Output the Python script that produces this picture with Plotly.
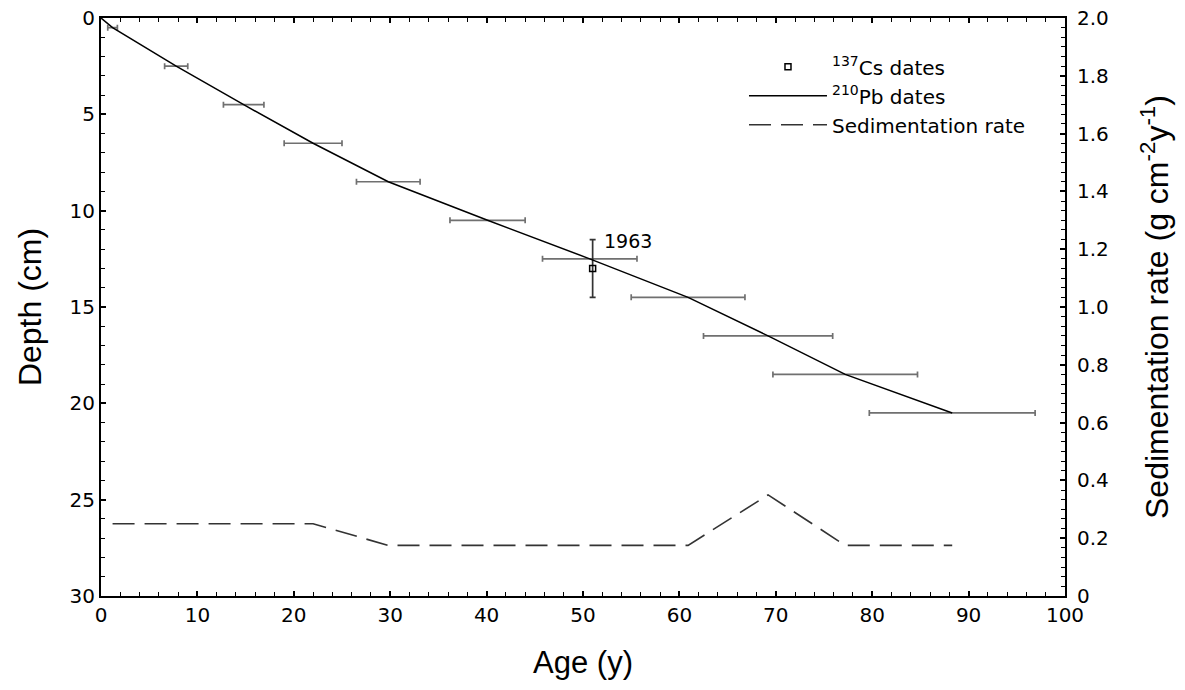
import plotly.graph_objects as go

# ---- data ----
pb_depth = [0.5, 2.5, 4.5, 6.5, 8.5, 10.5, 12.5, 14.5, 16.5, 18.5, 20.5]
pb_age = [1.2, 7.8, 14.8, 22.0, 29.8, 40.1, 50.7, 60.9, 69.2, 77.2, 88.3]
pb_age_err = [0.5, 1.2, 2.1, 3.0, 3.3, 3.9, 4.9, 5.9, 6.7, 7.5, 8.6]
line_age = [0.0] + pb_age
line_depth = [0.0] + pb_depth

cs_age = [51.0]
cs_depth = [13.0]
cs_depth_err = [1.5]
cs_label = "1963"

sed_rate = [0.25, 0.25, 0.25, 0.25, 0.175, 0.175, 0.175, 0.175, 0.35, 0.175, 0.175]

x_ticks = [0, 10, 20, 30, 40, 50, 60, 70, 80, 90, 100]
y_ticks = [0, 5, 10, 15, 20, 25, 30]
y2_ticks = [0, 0.2, 0.4, 0.6, 0.8, 1.0, 1.2, 1.4, 1.6, 1.8, 2.0]
y2_text = ["0", "0.2", "0.4", "0.6", "0.8", "1.0", "1.2", "1.4", "1.6", "1.8", "2.0"]

FONT = "'DejaVu Sans', Arial, sans-serif"
TFONT = "'Liberation Sans', Arial, sans-serif"

fig = go.Figure()

# error bars of 210Pb dates
fig.add_trace(go.Scatter(
    x=pb_age, y=pb_depth, mode="markers",
    marker=dict(size=1, color="rgba(0,0,0,0)"),
    error_x=dict(type="data", array=pb_age_err, color="#707070", thickness=1.7, width=3),
    showlegend=False, hoverinfo="skip",
))

# Cs point
fig.add_trace(go.Scatter(
    x=cs_age, y=cs_depth, mode="markers",
    name="<sup>137</sup>Cs dates",
    marker=dict(symbol="square-open", size=6, color="black", line=dict(width=1.5)),
    error_y=dict(type="data", array=cs_depth_err, color="#333333", thickness=1.7, width=3),
))

# Pb line
fig.add_trace(go.Scatter(
    x=line_age, y=line_depth, mode="lines",
    name="<sup>210</sup>Pb dates",
    line=dict(color="black", width=1.5),
))

# sedimentation rate
fig.add_trace(go.Scatter(
    x=pb_age, y=sed_rate, mode="lines", yaxis="y2",
    name="Sedimentation rate",
    line=dict(color="#333333", width=1.6, dash="22px,10px"),
))

fig.add_annotation(
    x=52, y=11.6, text=cs_label, showarrow=False, xanchor="left", yanchor="middle",
    font=dict(family=FONT, size=19, color="black"),
)

axis_common = dict(
    showline=True, linecolor="black", linewidth=2, ticks="inside",
    tickcolor="black", tickwidth=1.5, ticklen=5, showgrid=False, zeroline=False,
    automargin=False, ticklabeloverflow="allow",
    tickfont=dict(family=FONT, size=20, color="black"),
)

fig.update_layout(
    width=1185, height=690,
    margin=dict(l=93, r=128, t=9.5, b=101.5),
    paper_bgcolor="white", plot_bgcolor="white",
    font=dict(family=FONT, color="black"),
    xaxis=dict(
        range=[0, 100], tickvals=x_ticks, mirror="ticks",
        minor=dict(dtick=2, ticks="inside", ticklen=4, tickcolor="black", tickwidth=1.2),
        title=dict(text="Age (y)", font=dict(family=TFONT, size=31), standoff=25),
        **axis_common,
    ),
    yaxis=dict(
        range=[30, 0], tickvals=y_ticks,
        minor=dict(dtick=1, ticks="inside", ticklen=4, tickcolor="black", tickwidth=1.2),
        title=dict(text="Depth (cm)", font=dict(family=TFONT, size=32), standoff=18),
        **axis_common,
    ),
    yaxis2=dict(
        range=[0, 2], overlaying="y", side="right", tickvals=y2_ticks, ticktext=y2_text,
        ticklabelstandoff=6,
        minor=dict(dtick=0.2 / 6, tick0=0, ticks="inside", ticklen=4, tickcolor="black", tickwidth=1.2),
        title=dict(text="Sedimentation rate (g cm<sup>-2</sup>y<sup>-1</sup>)",
                   font=dict(family=TFONT, size=32), standoff=38),
        **axis_common,
    ),
    legend=dict(
        x=0.667, y=0.9495, xanchor="left", yanchor="top",
        bgcolor="rgba(0,0,0,0)", itemwidth=78, tracegroupgap=0,
        font=dict(family=FONT, size=20, color="black"),
    ),
)

fig.write_html("out.html")
